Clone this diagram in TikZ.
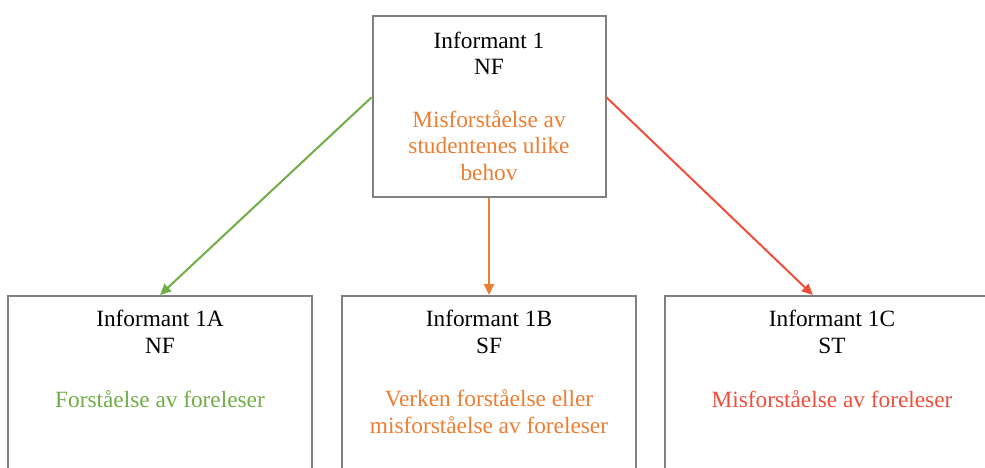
\documentclass[tikz,border=0pt]{standalone}
\usepackage{fontspec}
\setmainfont{Liberation Serif}
\usetikzlibrary{arrows.meta,calc}

\definecolor{boxgray}{RGB}{128,128,128}
\definecolor{okgreen}{RGB}{112,173,71}
\definecolor{midorange}{RGB}{237,125,49}
\definecolor{badred}{RGB}{240,78,58}

\tikzset{
  infobox/.style={draw=boxgray, line width=2pt, rectangle, inner sep=0pt},
  % multi-line nodes: the base anchor sits on the last line's baseline
  txt/.style={inner sep=0pt, align=center, anchor=base,
    font=\fontsize{23.3}{26.5}\selectfont},
  link/.style={line width=2pt, -{Triangle[length=11pt,width=10pt]}},
}

\begin{document}
\begin{tikzpicture}[x=1pt,y=-1pt]
  \useasboundingbox (0,0) rectangle (985,468);
  \clip (0,0) rectangle (985,468);

  % boxes
  \node[infobox, minimum width=233pt, minimum height=181pt] (top) at (489,106.5) {};
  \node[infobox, minimum width=304pt, minimum height=224pt] (a) at (160,408) {};
  \node[infobox, minimum width=294pt, minimum height=224pt] (b) at (489,408) {};
  \node[infobox, minimum width=334pt, minimum height=224pt] (c) at (832,408) {};

  % labels
  \node[txt] (topname) at (489,75) {Informant 1\\NF};
  \node[txt, text=midorange] (topnote) at (489,180) {Misforståelse av\\studentenes ulike\\behov};

  \node[txt] (aname) at (160,353) {Informant 1A\\NF};
  \node[txt, text=okgreen] (anote) at (160,407) {Forståelse av foreleser};

  \node[txt] (bname) at (489,353) {Informant 1B\\SF};
  \node[txt, text=midorange] (bnote) at (489,433) {Verken forståelse eller\\misforståelse av foreleser};

  \node[txt] (cname) at (832,353) {Informant 1C\\ST};
  \node[txt, text=badred] (cnote) at (832,407) {Misforståelse av foreleser};

  % connectors
  \coordinate (gstart) at ($(top.north west)!0.45!(top.south west)$);
  \coordinate (rstart) at ($(top.north east)!0.45!(top.south east)$);
  \coordinate (rend) at ($(c.north west)!0.443!(c.north east)$);
  \draw[link, okgreen] (gstart) -- (a.north);
  \draw[link, midorange] (top.south) -- (b.north);
  \draw[link, badred] (rstart) -- (rend);
\end{tikzpicture}
\end{document}
